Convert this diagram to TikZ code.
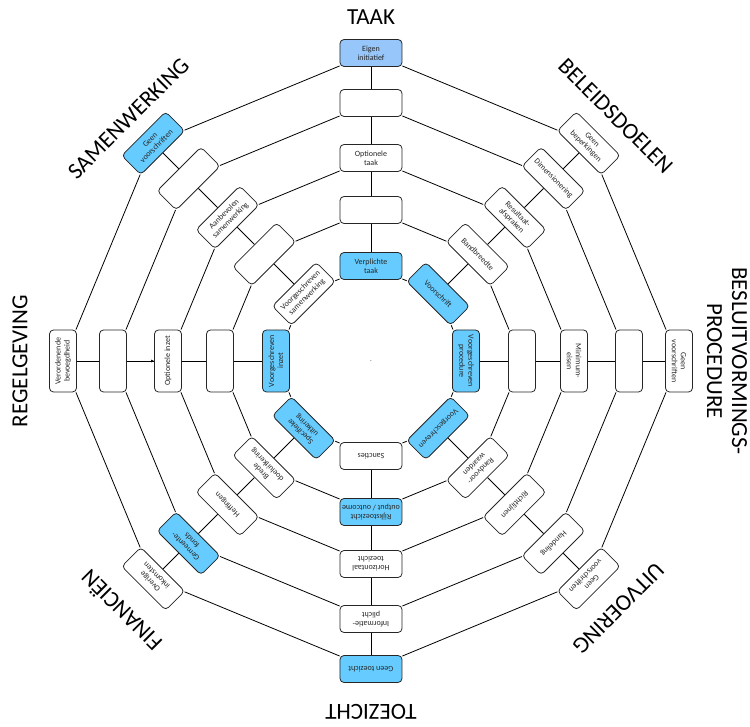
\documentclass[tikz,border=0pt]{standalone}
\usepackage{fontspec}
\setmainfont{Carlito}
\usetikzlibrary{arrows.meta}
\definecolor{vakblauw}{RGB}{102,204,255}
\definecolor{lichtblauw}{RGB}{150,198,250}
\tikzset{
  vak/.style={draw=black!85,fill=white,rounded corners=4pt,line width=0.8pt,
    minimum width=62pt,minimum height=27pt,inner sep=1pt,align=center,
    text=black!85,font=\fontsize{8}{9}\selectfont},
  wit/.style={},
  blauw/.style={fill=vakblauw},
  eigen/.style={fill=lichtblauw},
  kop/.style={font=\fontsize{23}{25}\selectfont,align=center}
}
\begin{document}
\begin{tikzpicture}[x=1pt,y=1pt,line width=0.8pt]
\useasboundingbox (-371,-366) rectangle (379,361);

\node[font=\fontsize{5}{5}\selectfont] (mid) at (0,-1) {-};

% spaken, vakken van binnen naar buiten
\foreach \r/\txt/\kl [count=\l] in {95/{Verplichte\\taak}/blauw, 151/{}/wit,
    203/{Optionele\\taak}/wit, 258/{}/wit, 308/{Eigen\\initiatief}/eigen}
  \node[vak,\kl,rotate=0] (s1-\l) at (90:\r) {\txt};
\foreach \r/\txt/\kl [count=\l] in {95/{Voorschrift}/blauw, 151/{Bandbreedte}/wit,
    203/{Resultaat-\\afspraken}/wit, 258/{Dimensionering}/wit, 308/{Geen\\beperkingen}/wit}
  \node[vak,\kl,rotate=-45] (s2-\l) at (45:\r) {\txt};
\foreach \r/\txt/\kl [count=\l] in {95/{Voorgeschreven\\procedure}/blauw, 151/{}/wit,
    203/{Minimum-\\eisen}/wit, 258/{}/wit, 308/{Geen\\voorschriften}/wit}
  \node[vak,\kl,rotate=-90] (s3-\l) at (0:\r) {\txt};
\foreach \r/\txt/\kl [count=\l] in {95/{Voorgeschreven}/blauw, 151/{Randvoor-\\waarden}/wit,
    203/{Richtlijnen}/wit, 258/{Handeling}/wit, 308/{Geen\\voorschriften}/wit}
  \node[vak,\kl,rotate=-135] (s4-\l) at (-45:\r) {\txt};
\foreach \r/\txt/\kl [count=\l] in {95/{Sancties}/wit, 151/{Rijkstoezicht\\output / outcome}/blauw,
    203/{Horizontaal\\toezicht}/wit, 258/{Informatie-\\plicht}/wit, 308/{Geen toezicht}/blauw}
  \node[vak,\kl,rotate=180] (s5-\l) at (-90:\r) {\txt};
\foreach \r/\txt/\kl [count=\l] in {95/{Specifieke\\uitkering}/blauw, 151/{Brede\\doeluitkering}/wit,
    203/{Heffingen}/wit, 258/{Gemeente-\\fonds}/blauw, 308/{Overige\\inkomsten}/wit}
  \node[vak,\kl,rotate=135] (s6-\l) at (-135:\r) {\txt};
\foreach \r/\txt/\kl [count=\l] in {95/{Voorgeschreven\\inzet}/blauw, 151/{}/wit,
    203/{Optionele inzet}/wit, 258/{}/wit, 308/{Verordenende\\bevoegdheid}/wit}
  \node[vak,\kl,rotate=90] (s7-\l) at (180:\r) {\txt};
\foreach \r/\txt/\kl [count=\l] in {95/{Voorgeschreven\\samenwerking}/wit, 151/{}/wit,
    203/{Aanbevolen\\samenwerking}/wit, 258/{}/wit, 308/{Geen\\voorschriften}/blauw}
  \node[vak,\kl,rotate=45] (s8-\l) at (135:\r) {\txt};

% ringen en spaken tussen de vakken
\foreach \i in {1,...,8}{
  \pgfmathtruncatemacro\nx{mod(\i,8)+1}
  \foreach \l in {1,...,5}
    \draw (s\i-\l) -- (s\nx-\l);
  \foreach \l [count=\up from 2] in {1,...,4}
    \draw (s\i-\l) -- (s\i-\up);
}
\draw[{Latex[length=3pt,width=3pt]}-] (s7-3) -- (s7-4);

% koppen
\node[kop] (taak) at (90:344) {TAAK};
\node[kop,rotate=-45] (beleid) at (45:346) {BELEIDSDOELEN};
\node[kop,rotate=-90] (besluit) at (0:356) {BESLUITVORMINGS-\\PROCEDURE};
\node[kop,rotate=-135] (uitvoering) at (-45:350) {UITVOERING};
\node[kop,rotate=180] (toezicht) at (-90:351) {TOEZICHT};
\node[kop,rotate=135] (financien) at (-135:354) {FINANCIËN};
\node[kop,rotate=90] (regel) at (180:351) {REGELGEVING};
\node[kop,rotate=45] (samen) at (135:343) {SAMENWERKING};
\end{tikzpicture}
\end{document}
